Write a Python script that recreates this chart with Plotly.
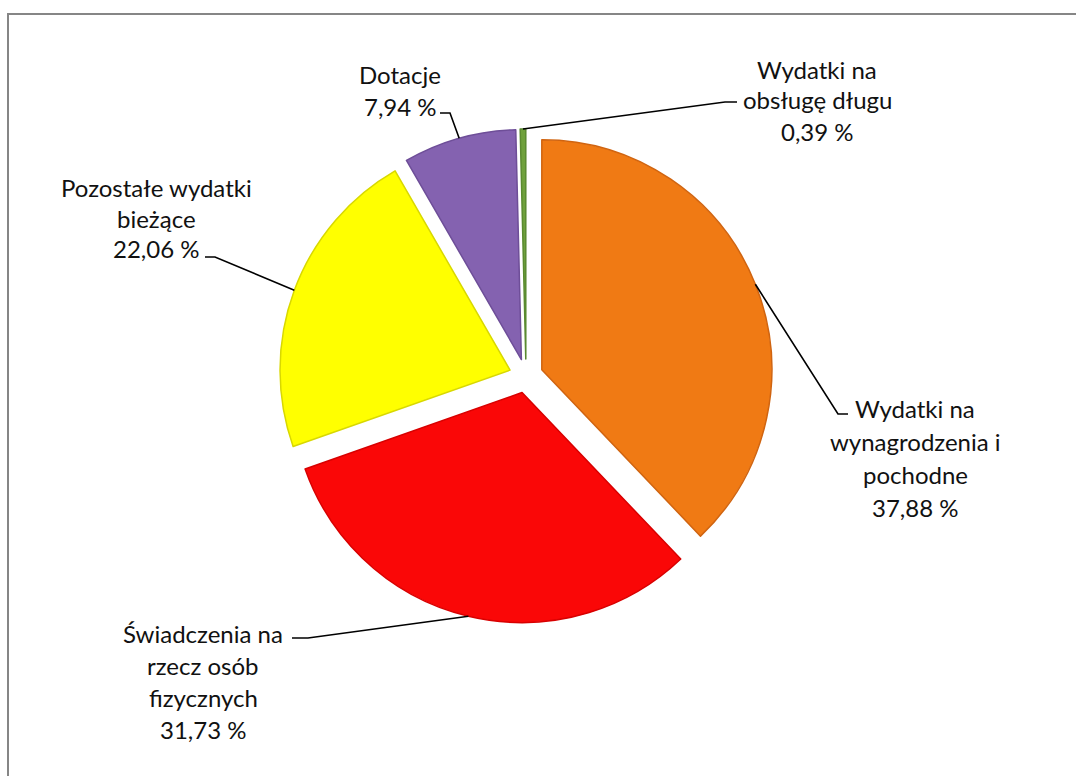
import math
import plotly.graph_objects as go

# ---------------- data ----------------
categories = [
    "Wydatki na wynagrodzenia i pochodne",
    "Świadczenia na rzecz osób fizycznych",
    "Pozostałe wydatki bieżące",
    "Dotacje",
    "Wydatki na obsługę długu",
]
values = [37.88, 31.73, 22.06, 7.94, 0.39]
label_lines = [
    ["Wydatki na", "wynagrodzenia i", "pochodne", "37,88 %"],
    ["Świadczenia na", "rzecz osób", "fizycznych", "31,73 %"],
    ["Pozostałe wydatki", "bieżące", "22,06 %"],
    ["Dotacje", "7,94 %"],
    ["Wydatki na", "obsługę długu", "0,39 %"],
]
colors = ["#F07A14", "#FA0707", "#FFFF00", "#8462B0", "#6FA13C"]
rim_colors = ["#D06410", "#D80000", "#D8D800", "#6E4E98", "#5A8A30"]

# ---------------- layout geometry (pixels) ----------------
W, H = 1076, 776
CX, CY, R = 526, 376, 230
PULL = 0.074
BOX = 2 * R * (1 + PULL)

# label block: (center x, first line y, line spacing), leader elbow and end
label_pos = [
    (915, 408, 33, (838, 414), (848, 414)),
    (203, 633, 32, (308, 638), (292, 638)),
    (156, 187, 31, (215, 257), (205, 257)),
    (400, 75, 32, (450, 113), (440, 113)),
    (817, 69, 31, (725, 102), (737, 102)),
]


def px(x):
    return x / W


def py(y):
    return 1 - y / H


fig = go.Figure(
    go.Pie(
        labels=categories,
        values=values,
        sort=False,
        direction="clockwise",
        rotation=0,
        pull=[PULL] * len(values),
        marker=dict(colors=colors, line=dict(color=rim_colors, width=1.5)),
        textinfo="none",
        hoverinfo="label+percent",
        showlegend=False,
        domain=dict(
            x=[px(CX - BOX / 2), px(CX + BOX / 2)],
            y=[py(CY + BOX / 2), py(CY - BOX / 2)],
        ),
    )
)

annotations = []
shapes = []
total = sum(values)
cum = 0.0
for i, v in enumerate(values):
    mid = (cum + v / 2) / total * 2 * math.pi
    cum += v
    dx, dy = math.sin(mid), -math.cos(mid)
    sx = CX + dx * R * PULL + dx * R
    sy = CY + dy * R * PULL + dy * R
    cx_l, y0, sp, elbow, end = label_pos[i]
    shapes.append(
        dict(
            type="path",
            xref="paper",
            yref="paper",
            path=f"M {px(sx)} {py(sy)} L {px(elbow[0])} {py(elbow[1])} L {px(end[0])} {py(end[1])}",
            line=dict(color="black", width=1.6),
        )
    )
    for k, t in enumerate(label_lines[i]):
        annotations.append(
            dict(
                x=px(cx_l),
                y=py(y0 + k * sp),
                xref="paper",
                yref="paper",
                text=t,
                showarrow=False,
                xanchor="center",
                yanchor="middle",
                font=dict(family="Lato", size=24, color="#111111"),
            )
        )

# outer border of chart area
shapes.append(
    dict(
        type="rect",
        xref="paper",
        yref="paper",
        x0=px(8),
        y0=py(W),
        x1=px(W + 20),
        y1=py(14),
        line=dict(color="#868686", width=2),
        fillcolor="rgba(0,0,0,0)",
        layer="below",
    )
)

fig.update_layout(
    width=W,
    height=H,
    margin=dict(l=0, r=0, t=0, b=0),
    paper_bgcolor="white",
    plot_bgcolor="white",
    annotations=annotations,
    shapes=shapes,
)

fig.write_html(
    "out.html",
    config={"displayModeBar": False},
    post_script="document.body.style.margin='0';document.body.style.overflow='hidden';",
)
